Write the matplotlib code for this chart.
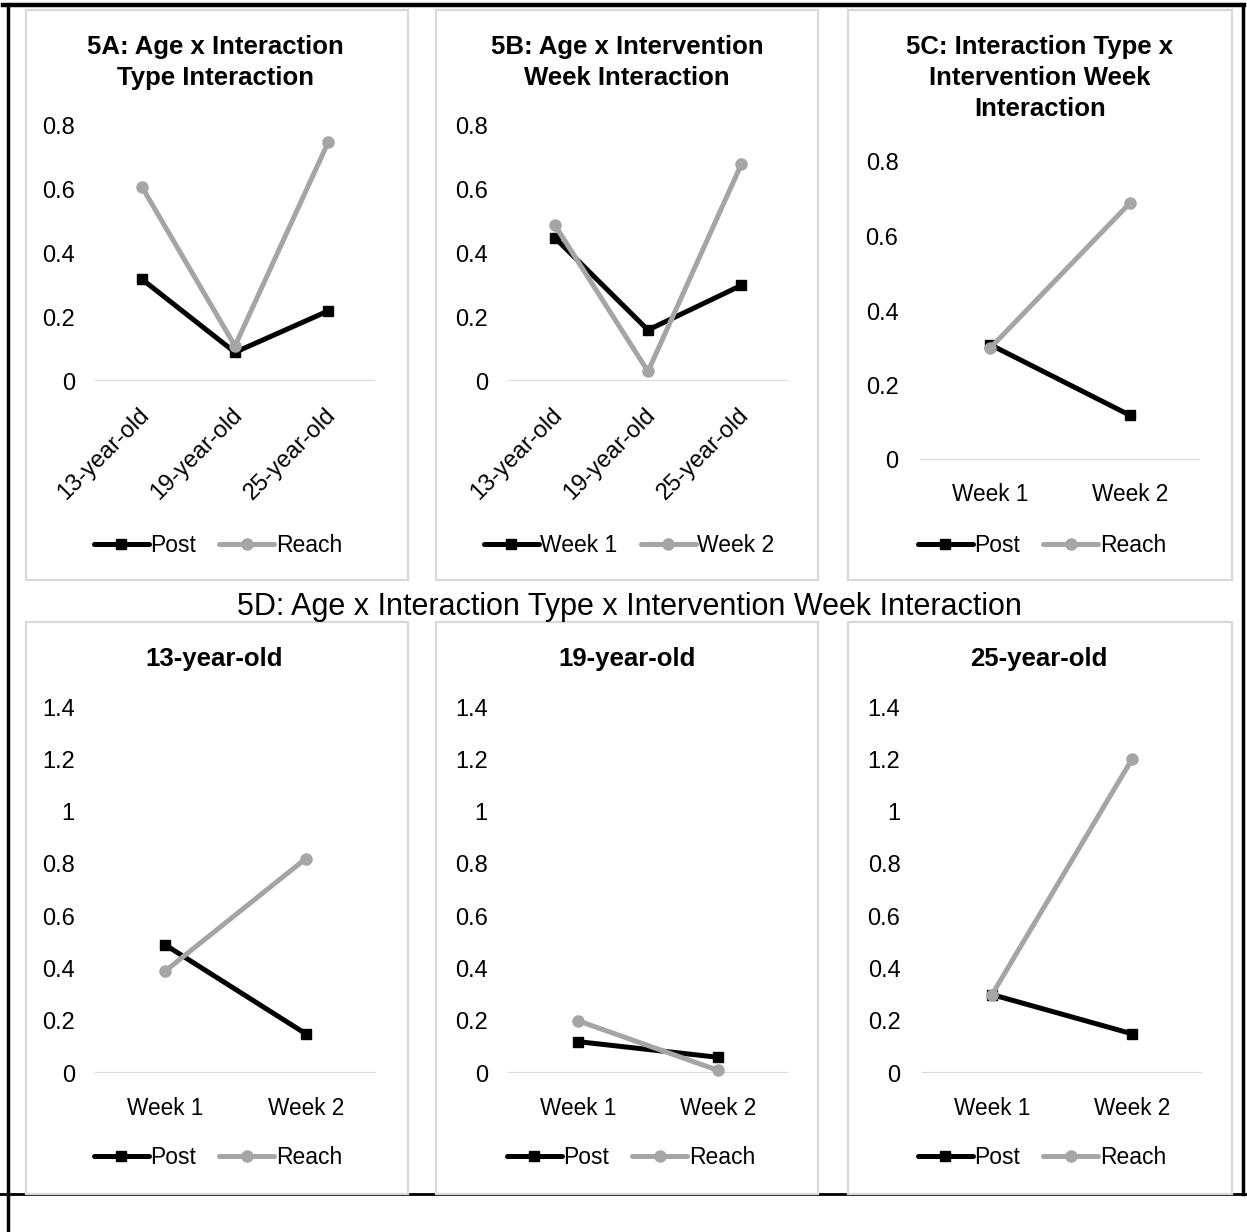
import matplotlib
matplotlib.use("Agg")
import matplotlib.pyplot as plt
import numpy as np
from matplotlib.patches import Rectangle
from matplotlib.lines import Line2D
from matplotlib.transforms import ScaledTranslation
from matplotlib.ticker import FuncFormatter

plt.rcParams["font.family"] = ["Liberation Sans", "DejaVu Sans"]

# ---------------- data ----------------
ages = ["13-year-old", "19-year-old", "25-year-old"]
weeks = ["Week 1", "Week 2"]

# 5A: Age x Interaction Type
a_post = [0.32, 0.09, 0.22]
a_reach = [0.61, 0.11, 0.75]

# 5B: Age x Intervention Week
b_week1 = [0.45, 0.16, 0.30]
b_week2 = [0.49, 0.03, 0.68]

# 5C: Interaction Type x Intervention Week
c_post = [0.31, 0.12]
c_reach = [0.30, 0.69]

# 5D: Age x Interaction Type x Intervention Week
d13_post = [0.49, 0.15]
d13_reach = [0.39, 0.82]
d19_post = [0.12, 0.06]
d19_reach = [0.20, 0.01]
d25_post = [0.30, 0.15]
d25_reach = [0.30, 1.20]

# ---------------- layout helpers ----------------
W, H, DPI = 1247, 1232, 100
DARK = "#000000"
LIGHT = "#a5a5a5"
FRAME = "#d9d9d9"

fig = plt.figure(figsize=(W / DPI, H / DPI), dpi=DPI)
fig.patch.set_facecolor("white")


def fx(x):
    return x / W


def fy(y):
    return 1 - y / H


def px_rect(x0, y0, x1, y1):
    return [fx(x0), fy(y1), (x1 - x0) / W, (y1 - y0) / H]


# outer black frame
for xs, ys, lw in [
    ([3, 1244], [5, 5], 3.2),
    ([8, 8], [5, 1232], 2.5),
    ([1243, 1243], [5, 1194], 2.5),
    ([0, 1247], [1194, 1194], 2.0),
]:
    fig.add_artist(Line2D([fx(v) for v in xs], [fy(v) for v in ys],
                          color="black", lw=lw, transform=fig.transFigure, zorder=0))

# panel boxes
boxes = [
    (26, 10, 408, 580), (436, 10, 818, 580), (848, 10, 1232, 580),
    (26, 622, 408, 1194), (436, 622, 818, 1194), (848, 622, 1232, 1194),
]
for (x0, y0, x1, y1) in boxes:
    fig.add_artist(Rectangle((fx(x0), fy(y1)), (x1 - x0) / W, (y1 - y0) / H,
                             transform=fig.transFigure, facecolor="white",
                             edgecolor=FRAME, lw=1.6, zorder=1))

fmt = FuncFormatter(lambda v, p: f"{round(v, 1):g}")


def make_axes(rect, cats, ymax, ypad, rotated=False, xpad=14.0):
    ax = fig.add_axes(px_rect(*rect))
    ax.set_zorder(2)
    ax.patch.set_alpha(0)
    for s in ax.spines.values():
        s.set_visible(False)
    n = len(cats)
    ax.set_xlim(-0.5, n - 0.5)
    ax.set_ylim(0, ymax)
    ax.set_yticks(np.arange(0, ymax + 1e-9, 0.2))
    ax.yaxis.set_major_formatter(fmt)
    ax.axhline(0, color=FRAME, lw=1.6, zorder=1)
    ax.tick_params(axis="y", length=0, pad=ypad, labelsize=17, labelcolor="black")
    ax.set_xticks(range(n))
    if rotated:
        ax.set_xticklabels(cats, rotation=45, ha="right", va="center",
                           rotation_mode="anchor", fontsize=17)
        ax.tick_params(axis="x", length=0, pad=22)
        off = ScaledTranslation(4 / DPI, 0, fig.dpi_scale_trans)
        for lab in ax.get_xticklabels():
            lab.set_transform(lab.get_transform() + off)
    else:
        ax.set_xticklabels(cats, fontsize=16.3)
        ax.tick_params(axis="x", length=0, pad=xpad)
    return ax


def draw_series(ax, s1, s2):
    x = range(len(s1))
    l1, = ax.plot(x, s1, color=DARK, lw=3.6, marker="s", ms=7.8,
                  clip_on=False, zorder=3, solid_capstyle="round")
    l2, = ax.plot(x, s2, color=LIGHT, lw=3.6, marker="o", ms=8,
                  clip_on=False, zorder=4, solid_capstyle="round")
    return l1, l2


def add_legend(handles, labels, cx, cy):
    fig.legend(handles, labels, loc="center", bbox_to_anchor=(fx(cx), fy(cy)),
               ncol=2, frameon=False, fontsize=16.5, handlelength=2.4,
               handletextpad=0.08, columnspacing=1.0, borderaxespad=0)


def panel_title(lines, cx, base_y, step=31, bold=True, size=18.5):
    for i, t in enumerate(lines):
        fig.text(fx(cx), fy(base_y + i * step), t, ha="center", va="baseline",
                 fontsize=size, fontweight="bold" if bold else "normal")


# ---------------- top row ----------------
axA = make_axes((95, 126, 375, 381), ages, 0.8, 14.5, rotated=True)
hA = draw_series(axA, a_post, a_reach)
panel_title(["5A: Age x Interaction", "Type Interaction"], 215, 54)
add_legend(hA, ["Post", "Reach"], 218, 546)

axB = make_axes((508, 126, 788, 381), ages, 0.8, 14.5, rotated=True)
hB = draw_series(axB, b_week1, b_week2)
panel_title(["5B: Age x Intervention", "Week Interaction"], 627, 54)
add_legend(hB, ["Week 1", "Week 2"], 629, 546)

axC = make_axes((920, 162, 1200, 460), weeks, 0.8, 15.5, xpad=16.5)
hC = draw_series(axC, c_post, c_reach)
panel_title(["5C: Interaction Type x", "Intervention Week", "Interaction"], 1040, 54)
add_legend(hC, ["Post", "Reach"], 1042, 546)

# ---------------- bottom row ----------------
fig.text(fx(629), fy(615), "5D: Age x Interaction Type x Intervention Week Interaction",
         ha="center", va="baseline", fontsize=22)

bottom = [
    ((95, 707, 376, 1073), d13_post, d13_reach, "13-year-old", 214, 14.5, 218),
    ((508, 707, 788, 1073), d19_post, d19_reach, "19-year-old", 627, 14.5, 631),
    ((922, 707, 1202, 1073), d25_post, d25_reach, "25-year-old", 1039, 15.5, 1042),
]
for rect, sp, sr, title, cx, ypad, lx in bottom:
    ax = make_axes(rect, weeks, 1.4, ypad, xpad=17.5)
    h = draw_series(ax, sp, sr)
    panel_title([title], cx, 666)
    add_legend(h, ["Post", "Reach"], lx, 1158)

fig.savefig("out.png", dpi=DPI, facecolor="white")
